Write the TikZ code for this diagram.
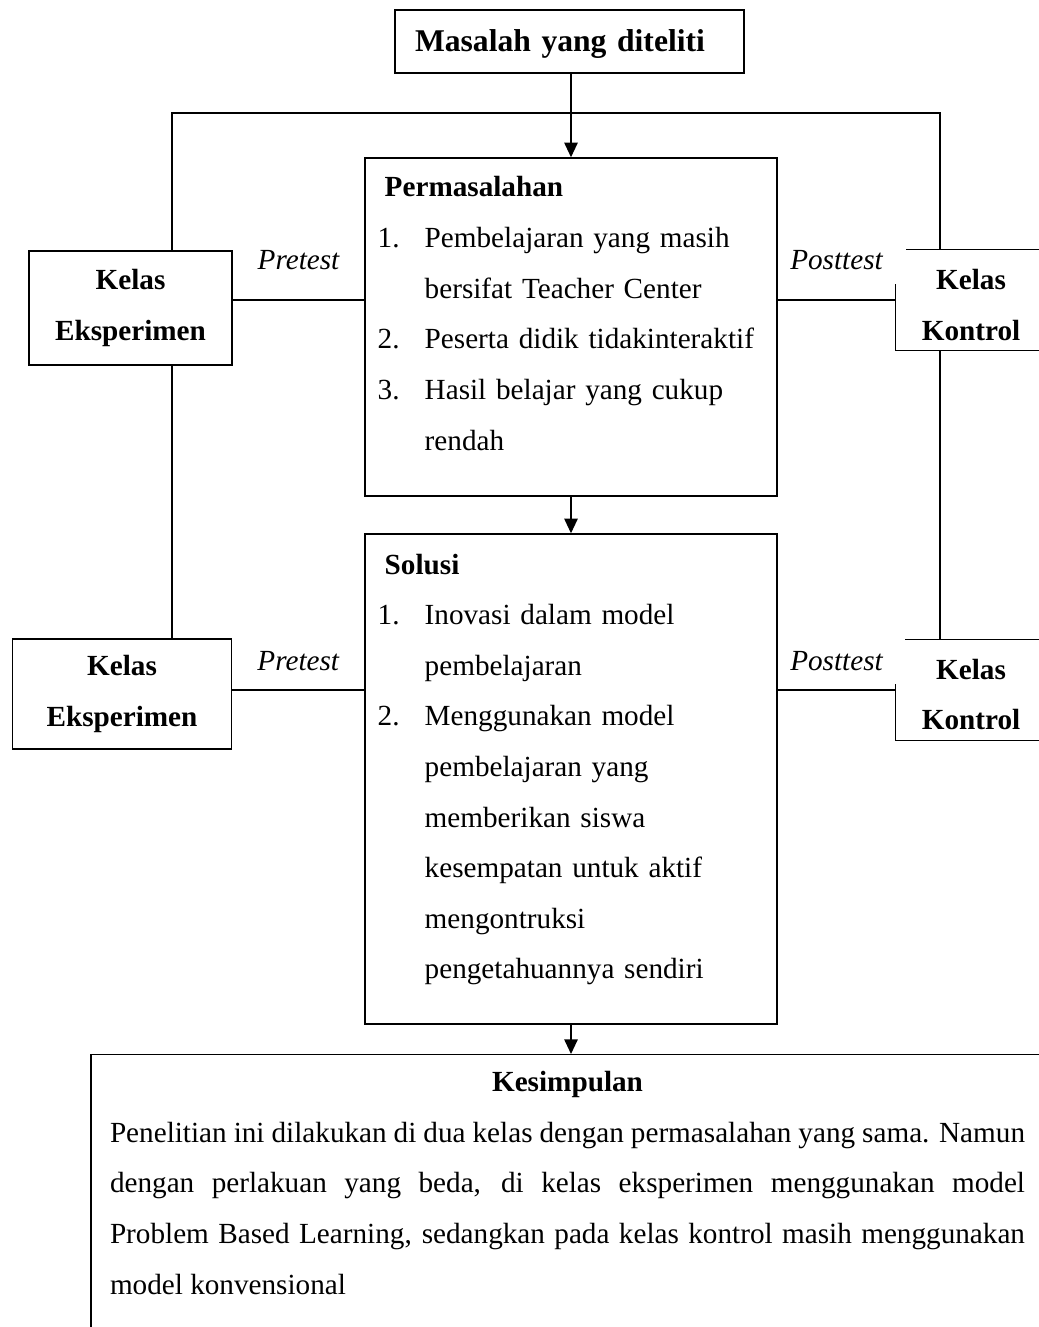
\documentclass[tikz,border=0pt]{standalone}
\usepackage{fontspec}
\setmainfont{Liberation Serif}
\usetikzlibrary{arrows.meta, positioning}
\newdimen\px \px=0.411pt
\newcommand{\nomor}[1]{\makebox[47\px][l]{#1}}
\newcommand{\lanjut}{\hspace*{47\px}}

\begin{document}
\begin{tikzpicture}[x=0.411pt, y=-0.411pt, line width=0.6pt,
  box/.style={rectangle, draw, inner sep=0pt, align=center,
              font=\bfseries\fontsize{12}{20.8}\selectfont},
  kelas/.style={rectangle, inner sep=0pt, align=center,
              font=\bfseries\fontsize{12}{20.8}\selectfont},
  txt/.style={inner sep=0pt, align=left, text width=395*\px,
              font=\fontsize{12}{20.8}\selectfont},
  lbl/.style={inner sep=0pt, font=\itshape\fontsize{12}{14}\selectfont},
  arr/.style={-{Triangle[length=6pt, width=5.5pt]}}
]
\useasboundingbox (0,0) rectangle (1038,1327);

\node[box, minimum width=349*\px, minimum height=63*\px, align=left,
  text width=309*\px, inner xsep=20*\px, font=\bfseries\fontsize{13}{16}\selectfont]
  (msl) at (569.5,41.5) {\rule{0pt}{27\px}Masalah yang diteliti};

\node[box, minimum width=412*\px, minimum height=338*\px] (perm) at (571,327) {};
\node[txt, anchor=base west] (permt) at (377,197) {%
  \hspace*{7\px}\textbf{Permasalahan}\\
  \nomor{1.}Pembelajaran yang masih\\
  \lanjut bersifat Teacher Center\\
  \nomor{2.}Peserta didik tidakinteraktif\\
  \nomor{3.}Hasil belajar yang cukup\\
  \lanjut rendah};

\node[box, minimum width=412*\px, minimum height=490*\px] (sol) at (571,779) {};
\node[txt, anchor=base west] (solt) at (377,574) {%
  \hspace*{7\px}\textbf{Solusi}\\
  \nomor{1.}Inovasi dalam model\\
  \lanjut pembelajaran\\
  \nomor{2.}Menggunakan model\\
  \lanjut pembelajaran yang\\
  \lanjut memberikan siswa\\
  \lanjut kesempatan untuk aktif\\
  \lanjut mengontruksi\\
  \lanjut pengetahuannya sendiri};

\node[box, minimum width=203*\px, minimum height=114*\px] (ke1) at (130.5,308) {Kelas\\Eksperimen};
\node[box, minimum width=219*\px, minimum height=110*\px] (ke2) at (122,694) {Kelas\\Eksperimen};
\node[kelas, minimum width=150*\px, minimum height=100*\px] (kk1) at (971,300) {\rule{0pt}{30\px}Kelas\\Kontrol};
\node[kelas, minimum width=150*\px, minimum height=100*\px] (kk2) at (971,690) {\rule{0pt}{29\px}Kelas\\Kontrol};

\draw (kk1.north west) ++(11,0) -- (kk1.north east);
\draw (kk1.north west) ++(0,35) -- (kk1.south west) -- (kk1.south east);
\draw (kk2.north west) ++(10,0) -- (kk2.north east);
\draw (kk2.north west) ++(0,45) -- (kk2.south west) -- (kk2.south east);

\node[box, anchor=north, align=justify, text width=915*\px, inner xsep=19*\px,
  font=\fontsize{12}{20.8}\selectfont] (kes) at (567.5,1054) {%
  {\centering\textbf{Kesimpulan}\rule{0pt}{37\px}\par}
  Penelitian ini dilakukan di dua kelas dengan permasalahan yang sama. Namun\linebreak
  dengan perlakuan yang beda, di kelas eksperimen menggunakan model\linebreak
  Problem Based Learning, sedangkan pada kelas kontrol masih menggunakan\linebreak
  model konvensional\rule[-45\px]{0pt}{45\px}};

\coordinate (tl) at (172,113);
\coordinate (tr) at (940,113);
\draw (ke1.north -| tl) -- (tl) -- (tr) -- (kk1.north -| tr);
\draw (ke1.south -| tl) -- (ke2.north -| tl);
\draw (kk1.south -| tr) -- (kk2.north -| tr);

\draw[arr] (perm.north |- msl.south) -- (perm.north);
\draw[arr] (perm.south) -- (sol.north);
\draw[arr] (sol.south) -- (sol.south |- kes.north);

\draw (ke1.east |- kk1.west) -- (perm.west |- kk1.west)
  node[lbl, midway, above=12pt] (pre1) {Pretest};
\draw (perm.east |- kk1.west) -- (kk1.west)
  node[lbl, midway, above=12pt] (post1) {Posttest};
\draw (ke2.east |- kk2.west) -- (sol.west |- kk2.west)
  node[lbl, midway, above=7.5pt] (pre2) {Pretest};
\draw (sol.east |- kk2.west) -- (kk2.west)
  node[lbl, midway, above=7.5pt] (post2) {Posttest};
\end{tikzpicture}
\end{document}
